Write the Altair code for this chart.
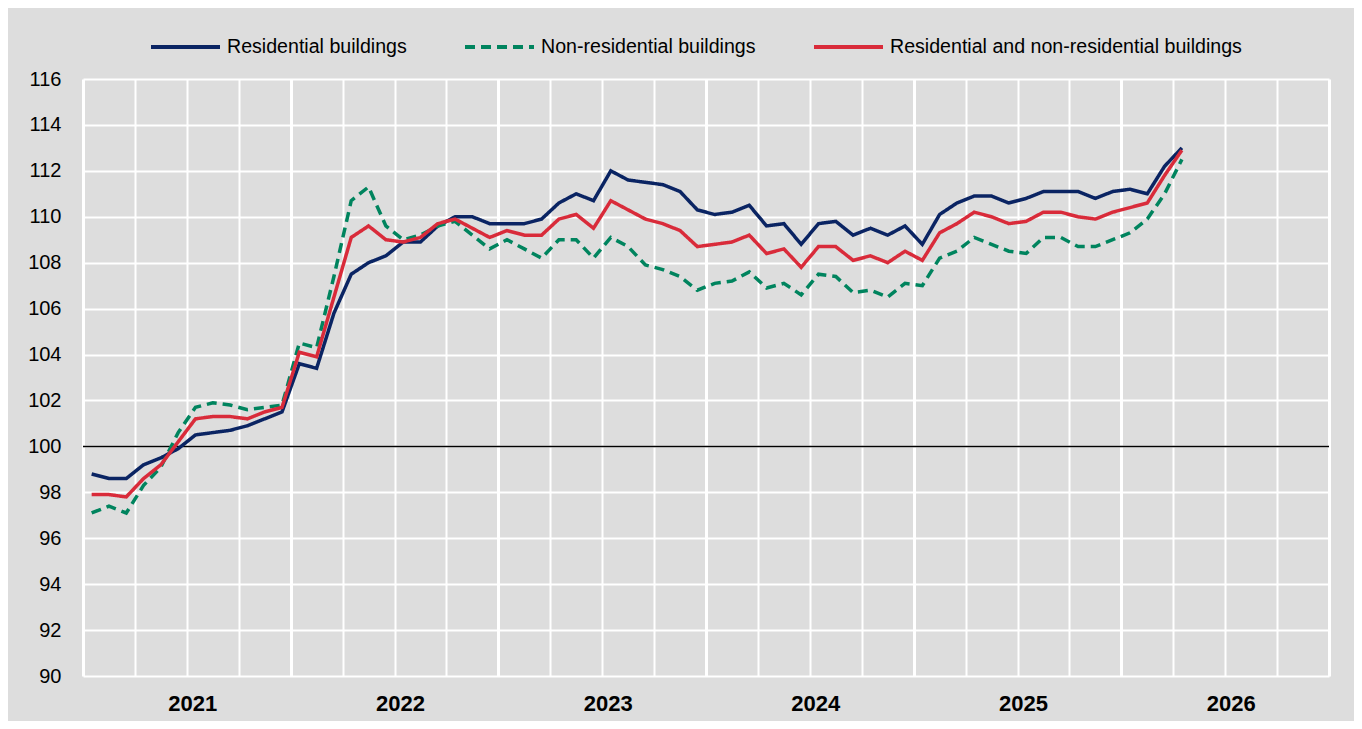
import altair as alt
import pandas as pd

series_names = [
    "Residential buildings",
    "Non-residential buildings",
    "Residential and non-residential buildings",
]
series_colors = ["#0a2463", "#00845e", "#d92b3a"]
series_dash = [[1, 0], [10, 6], [1, 0]]

# Monthly index values, Jan 2021 .. Apr 2026
residential = [
    98.8, 98.6, 98.6, 99.2, 99.5, 99.9, 100.5, 100.6, 100.7, 100.9, 101.2, 101.5,
    103.6, 103.4, 105.8, 107.5, 108.0, 108.3, 108.9, 108.9, 109.6, 110.0, 110.0, 109.7,
    109.7, 109.7, 109.9, 110.6, 111.0, 110.7, 112.0, 111.6, 111.5, 111.4, 111.1, 110.3,
    110.1, 110.2, 110.5, 109.6, 109.7, 108.8, 109.7, 109.8, 109.2, 109.5, 109.2, 109.6,
    108.8, 110.1, 110.6, 110.9, 110.9, 110.6, 110.8, 111.1, 111.1, 111.1, 110.8, 111.1,
    111.2, 111.0, 112.2, 113.0,
]
non_residential = [
    97.1, 97.4, 97.1, 98.3, 99.1, 100.6, 101.7, 101.9, 101.8, 101.6, 101.7, 101.8,
    104.5, 104.3, 107.4, 110.7, 111.3, 109.6, 109.0, 109.2, 109.6, 109.8, 109.2, 108.6,
    109.0, 108.6, 108.2, 109.0, 109.0, 108.2, 109.1, 108.7, 107.9, 107.7, 107.4, 106.8,
    107.1, 107.2, 107.6, 106.9, 107.1, 106.6, 107.5, 107.4, 106.7, 106.8, 106.5, 107.1,
    107.0, 108.2, 108.5, 109.1, 108.8, 108.5, 108.4, 109.1, 109.1, 108.7, 108.7, 109.0,
    109.3, 109.9, 111.0, 112.5,
]
combined = [
    97.9, 97.9, 97.8, 98.6, 99.2, 100.2, 101.2, 101.3, 101.3, 101.2, 101.5, 101.7,
    104.1, 103.9, 106.5, 109.1, 109.6, 109.0, 108.9, 109.1, 109.7, 109.9, 109.5, 109.1,
    109.4, 109.2, 109.2, 109.9, 110.1, 109.5, 110.7, 110.3, 109.9, 109.7, 109.4, 108.7,
    108.8, 108.9, 109.2, 108.4, 108.6, 107.8, 108.7, 108.7, 108.1, 108.3, 108.0, 108.5,
    108.1, 109.3, 109.7, 110.2, 110.0, 109.7, 109.8, 110.2, 110.2, 110.0, 109.9, 110.2,
    110.4, 110.6, 111.8, 112.9,
]
years = ["2021", "2022", "2023", "2024", "2025", "2026"]
y_ticks = list(range(90, 117, 2))
x_grid = list(range(0, 73, 3))

rows = []
for name, vals in zip(series_names, [residential, non_residential, combined]):
    for i, v in enumerate(vals):
        rows.append({"series": name, "month": i + 0.5, "value": v})
df = pd.DataFrame(rows)

year_df = pd.DataFrame({"year": years, "pos": [k * 12 + 6 for k in range(len(years))]})

x_scale = alt.Scale(domain=[0, 72], nice=False, zero=False)
y_scale = alt.Scale(domain=[90, 116], nice=False, zero=False)

x_enc = alt.X(
    "month:Q",
    scale=x_scale,
    axis=alt.Axis(
        values=x_grid,
        labels=False,
        title=None,
        ticks=False,
        domain=False,
        grid=True,
        gridColor="white",
        gridWidth={"condition": {"test": "datum.value % 12 === 0", "value": 3}, "value": 2},
    ),
)
y_enc = alt.Y(
    "value:Q",
    scale=y_scale,
    axis=alt.Axis(
        values=y_ticks,
        title=None,
        ticks=False,
        domain=False,
        grid=True,
        gridColor="white",
        gridWidth=2,
        labelFont="Liberation Sans",
        labelFontSize=20,
        labelColor="#000000",
        labelPadding=22,
    ),
)

lines = alt.Chart(df).mark_line(strokeWidth=3.5, strokeCap="butt", strokeJoin="miter").encode(
    x=x_enc,
    y=y_enc,
    color=alt.Color(
        "series:N",
        scale=alt.Scale(domain=series_names, range=series_colors),
        legend=alt.Legend(title=None),
        sort=series_names,
    ),
    strokeDash=alt.StrokeDash(
        "series:N",
        scale=alt.Scale(domain=series_names, range=series_dash),
        legend=alt.Legend(title=None),
        sort=series_names,
    ),
    order=alt.Order("month:Q"),
)

rule = alt.Chart(pd.DataFrame({"y": [100]})).mark_rule(color="#000000", strokeWidth=1.5).encode(
    y=alt.Y("y:Q", scale=y_scale)
)

year_labels = alt.Chart(year_df).mark_text(
    font="Liberation Sans",
    fontWeight="bold",
    fontSize=22,
    color="#000000",
    align="center",
    baseline="alphabetic",
    dx=6,
).encode(
    x=alt.X("pos:Q", scale=x_scale),
    y=alt.value(632),
    text="year:N",
)

chart = (
    alt.layer(rule, lines, year_labels)
    .properties(
        width=1246,
        height=597,
        autosize=alt.AutoSizeParams(type="none"),
        padding={"left": 75, "top": 71, "right": 25, "bottom": 45},
        background="#dddddd",
    )
    .configure_view(fill="#dddddd", stroke=None)
    .configure_legend(
        orient="none",
        direction="horizontal",
        legendX=66,
        legendY=-69,
        labelFont="Liberation Sans",
        labelFontSize=19.6,
        labelColor="#000000",
        labelLimit=600,
        labelOffset=5,
        columnPadding=50,
        symbolType="stroke",
        symbolSize=4761,
        symbolStrokeWidth=4,
        padding=0,
    )
)

chart.save("out.html", embed_options={"renderer": "svg", "actions": False})
